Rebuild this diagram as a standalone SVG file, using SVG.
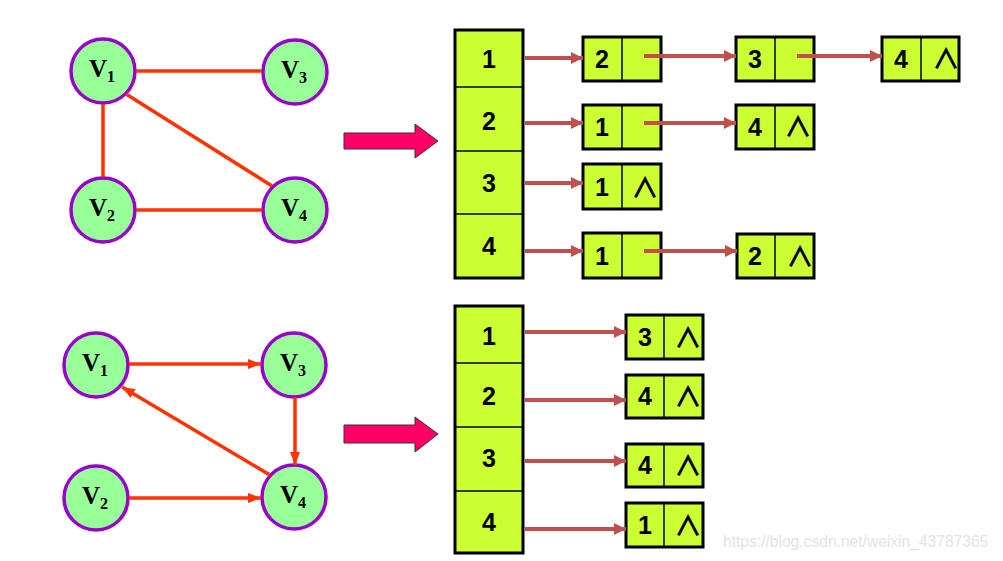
<svg xmlns="http://www.w3.org/2000/svg" width="1003" height="561" viewBox="0 0 1003 561">
<style>
.v{fill:#99FF99;stroke:#9900CC;stroke-width:3.5}
.vl{font-family:"Liberation Serif",serif;font-weight:bold;font-size:25px;fill:#000}
.vs{font-size:16px}
.e{stroke:#FF3300;stroke-width:3.5;fill:none}
.cell{fill:#CCFF33;stroke:#000;stroke-width:3}
.div{stroke:#000;stroke-width:1.5}
.num{font-family:"Liberation Sans",Arial,sans-serif;font-weight:bold;font-size:25px;fill:#000;text-anchor:middle}
.nil{font-family:"Noto Sans CJK SC","DejaVu Sans",sans-serif;font-size:28px;font-weight:bold;fill:#000;text-anchor:middle}
.p{stroke:#C0504D;stroke-width:4;fill:none}
.big{fill:#FF0066;stroke:#333;stroke-width:1}
.wm{font-family:"Liberation Sans",Arial,sans-serif;font-size:15.6px;fill:#E3E3E3}
</style>
<defs>
<marker id="ah" markerUnits="userSpaceOnUse" markerWidth="12" markerHeight="12" refX="12" refY="6" orient="auto"><path d="M0,0 L12,6 L0,12 z" fill="#C0504D"/></marker>
<marker id="ar" markerUnits="userSpaceOnUse" markerWidth="13" markerHeight="12" refX="13" refY="6" orient="auto"><path d="M0,1 L13,6 L0,11 z" fill="#FF3300"/></marker>
</defs>

<g id="g1-v1"><circle class="v" cx="103" cy="71" r="32"/><text class="vl" x="89" y="77">V<tspan class="vs" dy="5">1</tspan></text></g>
<g id="g1-v3"><circle class="v" cx="295" cy="72" r="32"/><text class="vl" x="281" y="78">V<tspan class="vs" dy="5">3</tspan></text></g>
<g id="g1-v2"><circle class="v" cx="103" cy="210" r="32"/><text class="vl" x="89" y="216">V<tspan class="vs" dy="5">2</tspan></text></g>
<g id="g1-v4"><circle class="v" cx="295" cy="210" r="32"/><text class="vl" x="281" y="216">V<tspan class="vs" dy="5">4</tspan></text></g>

<g id="g2-v1"><circle class="v" cx="96" cy="365" r="32"/><text class="vl" x="82" y="371">V<tspan class="vs" dy="5">1</tspan></text></g>
<g id="g2-v3"><circle class="v" cx="294" cy="365" r="32"/><text class="vl" x="280" y="371">V<tspan class="vs" dy="5">3</tspan></text></g>
<g id="g2-v2"><circle class="v" cx="96" cy="498" r="32"/><text class="vl" x="82" y="504">V<tspan class="vs" dy="5">2</tspan></text></g>
<g id="g2-v4"><circle class="v" cx="294" cy="497" r="32"/><text class="vl" x="280" y="503">V<tspan class="vs" dy="5">4</tspan></text></g>

<g id="arrow-top"><polygon class="big" points="344,133 415,133 415,124 438,141 415,158 415,149 344,149"/></g>
<g id="arrow-bottom"><polygon class="big" points="344,425 415,425 415,417 438,434 415,452 415,443 344,443"/></g>

<g id="array-top">
<rect class="cell" x="455" y="30" width="68" height="248"/>
<line class="div" x1="455" y1="87" x2="523" y2="87"/>
<line class="div" x1="455" y1="151" x2="523" y2="151"/>
<line class="div" x1="455" y1="214" x2="523" y2="214"/>
<text class="num" x="489" y="68">1</text>
<text class="num" x="489" y="130">2</text>
<text class="num" x="489" y="192">3</text>
<text class="num" x="489" y="255">4</text>
</g>

<g id="array-bottom">
<rect class="cell" x="455" y="306" width="68" height="247"/>
<line class="div" x1="455" y1="363" x2="523" y2="363"/>
<line class="div" x1="455" y1="427" x2="523" y2="427"/>
<line class="div" x1="455" y1="491" x2="523" y2="491"/>
<text class="num" x="489" y="345">1</text>
<text class="num" x="489" y="405">2</text>
<text class="num" x="489" y="467">3</text>
<text class="num" x="489" y="531">4</text>
</g>

<g id="n1a"><rect class="cell" x="583" y="37" width="78" height="44"/><line class="div" x1="622" y1="37" x2="622" y2="81"/><text class="num" x="602" y="68">2</text></g>
<g id="n1b"><rect class="cell" x="736" y="37" width="78" height="44"/><line class="div" x1="775" y1="37" x2="775" y2="81"/><text class="num" x="755" y="68">3</text></g>
<g id="n1c"><rect class="cell" x="882" y="37" width="77" height="44"/><line class="div" x1="921" y1="37" x2="921" y2="81"/><text class="num" x="901" y="68">4</text><text class="nil" x="946" y="69">∧</text></g>

<g id="n2a"><rect class="cell" x="583" y="105" width="78" height="44"/><line class="div" x1="622" y1="105" x2="622" y2="149"/><text class="num" x="602" y="136">1</text></g>
<g id="n2b"><rect class="cell" x="736" y="105" width="78" height="44"/><line class="div" x1="775" y1="105" x2="775" y2="149"/><text class="num" x="755" y="136">4</text><text class="nil" x="798" y="137">∧</text></g>

<g id="n3a"><rect class="cell" x="583" y="164" width="78" height="45"/><line class="div" x1="622" y1="164" x2="622" y2="209"/><text class="num" x="602" y="196">1</text><text class="nil" x="645" y="198">∧</text></g>

<g id="n4a"><rect class="cell" x="583" y="233" width="78" height="45"/><line class="div" x1="622" y1="233" x2="622" y2="278"/><text class="num" x="602" y="265">1</text></g>
<g id="n4b"><rect class="cell" x="737" y="234" width="77" height="44"/><line class="div" x1="775" y1="234" x2="775" y2="278"/><text class="num" x="755" y="265">2</text><text class="nil" x="800" y="267">∧</text></g>

<g id="m1"><rect class="cell" x="626" y="315" width="77" height="44"/><line class="div" x1="664" y1="315" x2="664" y2="359"/><text class="num" x="645" y="346">3</text><text class="nil" x="688" y="348">∧</text></g>
<g id="m2"><rect class="cell" x="626" y="375" width="77" height="43"/><line class="div" x1="664" y1="375" x2="664" y2="418"/><text class="num" x="645" y="405">4</text><text class="nil" x="688" y="407">∧</text></g>
<g id="m3"><rect class="cell" x="626" y="444" width="77" height="43"/><line class="div" x1="664" y1="444" x2="664" y2="487"/><text class="num" x="645" y="474">4</text><text class="nil" x="688" y="476">∧</text></g>
<g id="m4"><rect class="cell" x="626" y="503" width="77" height="44"/><line class="div" x1="664" y1="503" x2="664" y2="547"/><text class="num" x="645" y="534">1</text><text class="nil" x="688" y="536">∧</text></g>

<g id="connectors">
<line class="e" x1="136" y1="71" x2="262" y2="71"/>
<line class="e" x1="103" y1="104" x2="103" y2="177"/>
<line class="e" x1="126" y1="94" x2="272" y2="186"/>
<line class="e" x1="136" y1="210" x2="262" y2="210"/>
<line class="e" x1="129" y1="364" x2="261" y2="364" marker-end="url(#ar)"/>
<line class="e" x1="295" y1="397" x2="295" y2="465" marker-end="url(#ar)"/>
<line class="e" x1="270" y1="475" x2="122" y2="387" marker-end="url(#ar)"/>
<line class="e" x1="129" y1="498" x2="261" y2="498" marker-end="url(#ar)"/>

<line class="p" x1="525" y1="58" x2="583" y2="58" marker-end="url(#ah)"/>
<line class="p" x1="644" y1="56" x2="736" y2="56" marker-end="url(#ah)"/>
<line class="p" x1="797" y1="56" x2="882" y2="56" marker-end="url(#ah)"/>
<line class="p" x1="525" y1="123" x2="583" y2="123" marker-end="url(#ah)"/>
<line class="p" x1="644" y1="123" x2="736" y2="123" marker-end="url(#ah)"/>
<line class="p" x1="525" y1="183" x2="583" y2="183" marker-end="url(#ah)"/>
<line class="p" x1="525" y1="251" x2="583" y2="251" marker-end="url(#ah)"/>
<line class="p" x1="644" y1="251" x2="737" y2="251" marker-end="url(#ah)"/>

<line class="p" x1="525" y1="332" x2="626" y2="332" marker-end="url(#ah)"/>
<line class="p" x1="525" y1="400" x2="626" y2="400" marker-end="url(#ah)"/>
<line class="p" x1="525" y1="461" x2="626" y2="461" marker-end="url(#ah)"/>
<line class="p" x1="525" y1="529" x2="626" y2="529" marker-end="url(#ah)"/>
</g>

<text class="wm" x="723" y="547">https://blog.csdn.net/weixin_43787365</text>
</svg>
